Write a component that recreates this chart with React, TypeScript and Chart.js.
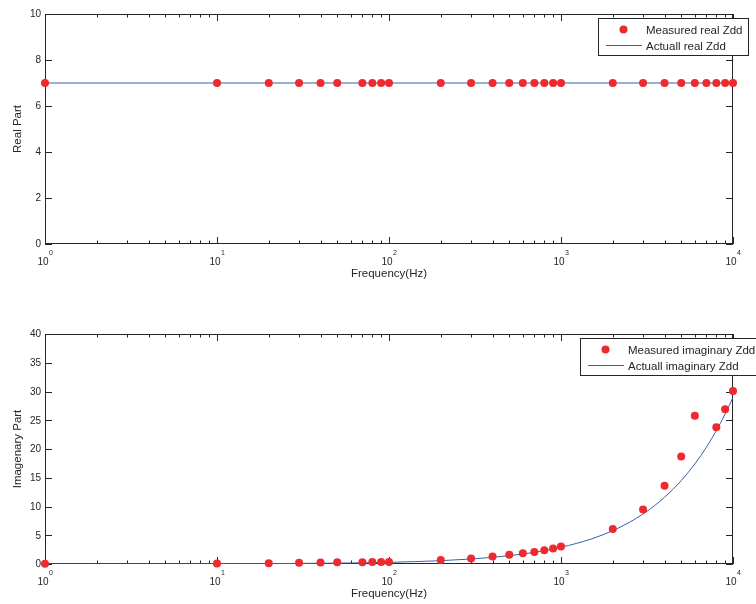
import React, { useEffect, useRef } from 'react';
import { Chart, registerables } from 'chart.js';

Chart.register(...registerables);

// ---------- data ----------
const freqReal = [1, 10, 20, 30, 40, 50, 70, 80, 90, 100, 200, 300, 400, 500, 600, 700, 800, 900, 1000, 2000, 3000, 4000, 5000, 6000, 7000, 8000, 9000, 10000];
const measuredReal = [7, 7, 7, 7, 7, 7, 7, 7, 7, 7, 7, 7, 7, 7, 7, 7, 7, 7, 7, 7, 7, 7, 7, 7, 7, 7, 7, 7];
const actualRealFreq = [1, 10000];
const actualReal = [7, 7];

const freqImag = [1, 10, 20, 30, 40, 50, 70, 80, 90, 100, 200, 300, 400, 500, 600, 700, 800, 900, 1000, 2000, 3000, 4000, 5000, 6000, 8000, 9000, 10000];
const measuredImag = [0.05, 0.1, 0.15, 0.2, 0.25, 0.3, 0.3, 0.35, 0.35, 0.35, 0.7, 0.95, 1.3, 1.6, 1.85, 2.1, 2.4, 2.7, 3.05, 6.1, 9.5, 13.6, 18.7, 25.8, 23.8, 26.9, 30.1];
const actualImagFreq = [1, 2, 5, 10, 20, 50, 100, 200, 300, 400, 500, 600, 700, 800, 900, 1000, 1500, 2000, 2500, 3000, 3500, 4000, 4500, 5000, 5500, 6000, 6500, 7000, 7500, 8000, 8500, 9000, 9500, 10000];
const actualImag = [0.003, 0.006, 0.015, 0.03, 0.06, 0.15, 0.29, 0.58, 0.87, 1.16, 1.45, 1.74, 2.03, 2.32, 2.61, 2.9, 4.35, 5.8, 7.25, 8.7, 10.15, 11.6, 13.05, 14.5, 15.95, 17.4, 18.85, 20.3, 21.75, 23.2, 24.65, 26.1, 27.55, 29.0];

const decadeTicks = [1, 10, 100, 1000, 10000];
const decadeExponents = ['0', '1', '2', '3', '4'];
const realTicks = [0, 2, 4, 6, 8, 10];
const imagTicks = [0, 5, 10, 15, 20, 25, 30, 35, 40];

const realLabels = ['Measured real Zdd', 'Actuall real Zdd'];
const imagLabels = ['Measured imaginary Zdd', 'Actuall imaginary Zdd'];

// ---------- style ----------
const FONT = "'Liberation Sans', Arial, Helvetica, sans-serif";
const INK = '#262626';
const RED = '#ee2a2e';
const BLUE = '#3561ad';

const pts = (xs: number[], ys: number[]) => xs.map((x, i) => ({ x, y: ys[i] }));

const matlabAxes = {
  id: 'matlabAxes',
  beforeDatasetsDraw(chart: any) {
    const o = chart.options.plugins.matlabAxes;
    const { ctx, chartArea: a } = chart;
    const xs = chart.scales.x;
    const ys = chart.scales.y;
    ctx.save();
    ctx.strokeStyle = INK;
    ctx.lineWidth = 1;
    ctx.strokeRect(a.left + 0.5, a.top + 0.5, a.width - 1, a.height - 1);
    ctx.beginPath();
    // y ticks (left & right, inward)
    o.yTicks.forEach((v: number) => {
      const py = Math.round(ys.getPixelForValue(v)) + 0.5;
      ctx.moveTo(a.left, py); ctx.lineTo(a.left + 7, py);
      ctx.moveTo(a.right, py); ctx.lineTo(a.right - 7, py);
    });
    // x ticks (bottom & top, inward), major and minor
    o.xTicks.forEach((d: number, i: number) => {
      const px = Math.round(xs.getPixelForValue(d)) + 0.5;
      ctx.moveTo(px, a.bottom); ctx.lineTo(px, a.bottom - 7);
      ctx.moveTo(px, a.top); ctx.lineTo(px, a.top + 7);
      if (i < o.xTicks.length - 1) {
        for (let k = 2; k <= 9; k++) {
          const mx = Math.round(xs.getPixelForValue(d * k)) + 0.5;
          ctx.moveTo(mx, a.bottom); ctx.lineTo(mx, a.bottom - 3.5);
          ctx.moveTo(mx, a.top); ctx.lineTo(mx, a.top + 3.5);
        }
      }
    });
    ctx.stroke();

    ctx.fillStyle = INK;
    // y tick labels
    ctx.font = `10px ${FONT}`;
    ctx.textAlign = 'right';
    ctx.textBaseline = 'middle';
    o.yTicks.forEach((v: number) => {
      ctx.fillText(String(v), a.left - 4, ys.getPixelForValue(v) + 0.5);
    });
    // x tick labels 10^n
    ctx.textAlign = 'left';
    ctx.textBaseline = 'alphabetic';
    o.xTicks.forEach((d: number, i: number) => {
      const px = xs.getPixelForValue(d);
      ctx.font = `10px ${FONT}`;
      const w1 = ctx.measureText('10').width;
      ctx.font = `7px ${FONT}`;
      const ex = o.xExponents[i];
      const w2 = ctx.measureText(ex).width;
      const start = px - (w1 + w2) / 2;
      ctx.font = `10px ${FONT}`;
      ctx.fillText('10', start, a.bottom + 20.5);
      ctx.font = `7px ${FONT}`;
      ctx.fillText(ex, start + w1 + 0.5, a.bottom + 11);
    });
    // axis titles
    ctx.font = `11.5px ${FONT}`;
    ctx.textAlign = 'center';
    ctx.fillText(o.xTitle, (a.left + a.right) / 2, a.bottom + 33);
    ctx.save();
    ctx.translate(21, (a.top + a.bottom) / 2);
    ctx.rotate(-Math.PI / 2);
    ctx.fillText(o.yTitle, 0, 0);
    ctx.restore();
    ctx.restore();
  },
  afterDraw(chart: any) {
    const o = chart.options.plugins.matlabAxes;
    const { ctx, chartArea: a } = chart;
    const ds = chart.data.datasets;
    ctx.save();
    ctx.font = `11.5px ${FONT}`;
    const left = o.legendLeft;
    const textX = left + 48;
    const tw = Math.max(...ds.map((d: any) => ctx.measureText(d.label).width));
    const top = a.top + 4.5;
    const w = Math.round(textX + tw + 5 - left);
    ctx.fillStyle = '#ffffff';
    ctx.fillRect(left, top, w, 37);
    ctx.strokeStyle = INK;
    ctx.lineWidth = 1;
    ctx.strokeRect(left + 0.5, top, w, 37);
    // marker
    ctx.fillStyle = RED;
    ctx.beginPath();
    ctx.arc(left + 25.5, a.top + 15.5, 4, 0, Math.PI * 2);
    ctx.fill();
    // line
    ctx.strokeStyle = BLUE;
    ctx.beginPath();
    ctx.moveTo(left + 8, a.top + 31.5);
    ctx.lineTo(left + 44, a.top + 31.5);
    ctx.stroke();
    ctx.fillStyle = INK;
    ctx.textAlign = 'left';
    ctx.textBaseline = 'alphabetic';
    ctx.fillText(ds[0].label, textX, a.top + 20);
    ctx.fillText(ds[1].label, textX, a.top + 36);
    ctx.restore();
  },
};

function makeConfig(opts: any): any {
  return {
    type: 'scatter',
    data: {
      datasets: [
        {
          label: opts.labels[0],
          data: pts(opts.mx, opts.my),
          showLine: false,
          pointRadius: 4,
          pointBorderWidth: 0,
          pointBackgroundColor: RED,
          backgroundColor: RED,
          borderColor: RED,
          clip: false,
        },
        {
          label: opts.labels[1],
          data: pts(opts.lx, opts.ly),
          showLine: true,
          pointRadius: 0,
          borderWidth: 1,
          borderColor: BLUE,
          backgroundColor: BLUE,
          cubicInterpolationMode: 'monotone',
          fill: false,
        },
      ],
    },
    options: {
      responsive: false,
      animation: false,
      events: [],
      layout: { padding: opts.padding },
      scales: {
        x: { type: 'logarithmic', min: 1, max: 10000, display: false },
        y: { type: 'linear', min: opts.ymin, max: opts.ymax, display: false },
      },
      plugins: {
        legend: { display: false },
        tooltip: { enabled: false },
        matlabAxes: {
          yTicks: opts.yTicks,
          xTicks: decadeTicks,
          xExponents: decadeExponents,
          xTitle: 'Frequency(Hz)',
          yTitle: opts.yTitle,
          legendLeft: opts.legendLeft,
        },
      },
    },
    plugins: [matlabAxes],
  };
}

function Panel({ config }: { config: any }) {
  const ref = useRef<HTMLCanvasElement | null>(null);
  useEffect(() => {
    if (!ref.current) return;
    const chart = new Chart(ref.current, config);
    return () => chart.destroy();
  }, [config]);
  return <canvas ref={ref} width={756} height={302} style={{ display: 'block', width: 756, height: 302 }} />;
}

const topConfig = makeConfig({
  labels: realLabels,
  mx: freqReal, my: measuredReal,
  lx: actualRealFreq, ly: actualReal,
  padding: { left: 45, right: 23, top: 14, bottom: 58 },
  ymin: 0, ymax: 10,
  yTicks: realTicks,
  yTitle: 'Real Part',
  legendLeft: 598,
});

const bottomConfig = makeConfig({
  labels: imagLabels,
  mx: freqImag, my: measuredImag,
  lx: actualImagFreq, ly: actualImag,
  padding: { left: 45, right: 23, top: 32, bottom: 40 },
  ymin: 0, ymax: 40,
  yTicks: imagTicks,
  yTitle: 'Imagenary Part',
  legendLeft: 580,
});

export default function App() {
  return (
    <div style={{ position: 'absolute', left: 0, top: 0, width: 756, height: 604, background: '#ffffff' }}>
      <div style={{ position: 'absolute', left: 0, top: 0 }}>
        <Panel config={topConfig} />
      </div>
      <div style={{ position: 'absolute', left: 0, top: 302 }}>
        <Panel config={bottomConfig} />
      </div>
    </div>
  );
}
